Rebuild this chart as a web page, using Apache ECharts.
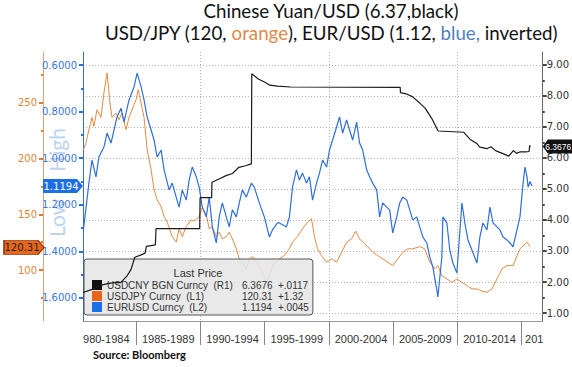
<!DOCTYPE html>
<html><head><meta charset="utf-8">
<script src="https://cdn.jsdelivr.net/npm/echarts@6.0.0/dist/echarts.min.js"></script>
<style>html,body{margin:0;padding:0;background:#fff}#c{width:572px;height:367px}</style>
</head><body><div id="c"></div>
<script>
// ---------- data ----------
const seriesNames = ['USDCNY BGN Curncy', 'USDJPY Curncy', 'EURUSD Curncy'];
const seriesTags = ['(R1)', '(L1)', '(L2)'];
const lastPrices = ['6.3676', '120.31', '1.1194'];
const changes = ['+.0117', '+1.32', '+.0045'];
const lastValues = [6.3676, 120.31, 1.1194];

const periodSeparators = [1985, 1990, 1995, 2000, 2005, 2010, 2015];
const decadeLines = [1990, 2000, 2010];
const periodLabelPos = [1982.68, 1987.5, 1992.5, 1997.5, 2002.5, 2007.5, 2012.5, 2015.98];
const periodLabels = ['980-1984', '1985-1989', '1990-1994', '1995-1999', '2000-2004', '2005-2009', '2010-2014', '201'];

const cnyTicks = [1, 2, 3, 4, 5, 6, 7, 8, 9];
const cnyMinorTicks = [1.5, 2.5, 3.5, 4.5, 5.5, 6.5, 7.5, 8.5];
const jpyTicks = [100, 150, 200, 250];
const jpyMinorTicks = [75, 125, 175, 225, 275];
const eurTicks = [0.6, 0.8, 1.0, 1.2, 1.4, 1.6];
const eurMinorTicks = [0.7, 0.9, 1.1, 1.3, 1.5];

// USD/CNY (right axis)
const usdcny = [
  [1980.87,1.66],[1981.3,1.72],[1981.8,1.8],[1982.3,1.9],[1982.8,1.95],[1983.3,1.98],[1983.8,1.98],
  [1984.3,2.2],[1984.6,2.4],[1984.9,2.8],[1985.3,2.86],[1985.7,2.93],[1985.8,3.15],[1986.5,3.2],
  [1986.55,3.72],[1989.95,3.72],[1989.98,4.72],[1990.88,4.72],[1990.9,5.22],[1991.5,5.33],
  [1992.0,5.43],[1992.5,5.5],[1993.0,5.7],[1993.5,5.75],[1993.97,5.81],[1994.0,8.72],[1994.5,8.55],
  [1995.0,8.45],[1995.4,8.35],[1996.0,8.32],[1997.0,8.29],[2005.55,8.28],[2005.57,8.11],[2006.0,8.07],
  [2006.5,7.98],[2007.0,7.8],[2007.5,7.6],[2008.0,7.28],[2008.5,6.87],[2010.5,6.83],[2010.6,6.78],
  [2011.0,6.6],[2011.5,6.47],[2011.75,6.35],[2012.3,6.3],[2012.6,6.36],[2013.0,6.23],[2013.5,6.15],
  [2014.0,6.06],[2014.35,6.24],[2014.6,6.15],[2014.9,6.2],[2015.3,6.2],[2015.58,6.21],[2015.62,6.4],[2015.7,6.37]
];

// USD/JPY (left axis L1)
const usdjpy = [
  [1980.9,208],[1981.1,214],[1981.33,226],[1981.57,237],[1981.72,229],[1981.96,244],[1982.27,237],
  [1982.5,259],[1982.74,277],[1982.97,250],[1983.13,237],[1983.44,241],[1983.67,235],[1983.91,241],
  [1984.22,226],[1984.45,237],[1984.69,244],[1985.0,253],[1985.16,262],[1985.39,250],[1985.62,237],
  [1985.86,208],[1986.17,190],[1986.4,172],[1986.64,163],[1986.95,157],[1987.18,148],[1987.42,143],
  [1987.81,130],[1988.12,125],[1988.35,137],[1988.59,130],[1988.9,139],[1989.29,145],[1989.52,144],
  [1989.91,148],[1990.15,156],[1990.46,150],[1990.69,137],[1990.93,139],[1991.24,130],[1991.47,134],
  [1991.71,128],[1992.02,130],[1992.25,134],[1992.49,128],[1992.8,119],[1993.03,110],[1993.27,107],
  [1993.58,101],[1993.81,110],[1994.05,112],[1994.59,104],[1995.14,89],[1995.37,95],[1995.61,104],
  [1995.92,107],[1996.15,110],[1996.54,113],[1996.93,119],[1997.17,125],[1997.56,130],[1997.95,137],
  [1998.34,143],[1998.65,146],[1998.88,130],[1999.12,119],[1999.43,113],[1999.82,107],[2000.21,110],
  [2000.6,107],[2000.99,116],[2001.38,125],[2001.77,128],[2002.08,135],[2002.39,128],[2002.63,125],
  [2003.02,121],[2003.41,116],[2003.8,113],[2004.19,110],[2004.58,107],[2004.97,104],[2005.36,110],
  [2005.75,116],[2006.14,119],[2006.53,119],[2007.07,121],[2007.46,119],[2007.85,107],[2008.24,101],
  [2008.48,104],[2008.79,95],[2009.18,92],[2009.57,89],[2009.96,92],[2010.35,89],[2010.74,86],
  [2011.13,83],[2011.52,83],[2011.91,81],[2012.3,80],[2012.69,83],[2013.08,92],[2013.47,101],
  [2013.86,104],[2014.33,104],[2014.87,119],[2015.42,125],[2015.65,121]
];

// EUR/USD (left axis L2, inverted)
const eurusd = [
  [1980.9,1.308],[1981.33,1.107],[1981.57,1.008],[1981.88,1.08],[1982.11,0.995],[1982.5,0.952],
  [1982.74,0.892],[1983.05,0.935],[1983.28,0.879],[1983.52,0.823],[1983.83,0.785],[1984.06,0.845],
  [1984.45,0.75],[1984.84,0.694],[1985.08,0.635],[1985.39,0.694],[1985.62,0.75],[1985.86,0.823],
  [1986.17,0.879],[1986.4,0.922],[1986.64,0.995],[1986.95,0.965],[1987.18,1.05],[1987.57,1.136],
  [1987.81,1.107],[1988.12,1.167],[1988.35,1.21],[1988.59,1.136],[1988.9,1.18],[1989.13,1.094],
  [1989.37,1.038],[1989.68,1.08],[1989.91,1.124],[1990.15,1.21],[1990.46,1.252],[1990.69,1.167],
  [1990.93,1.295],[1991.24,1.364],[1991.47,1.252],[1991.71,1.192],[1992.02,1.252],[1992.25,1.295],
  [1992.49,1.222],[1992.8,1.252],[1993.03,1.192],[1993.27,1.136],[1993.58,1.167],[1993.97,1.107],
  [1994.2,1.124],[1994.59,1.192],[1994.98,1.252],[1995.37,1.338],[1995.61,1.308],[1996.0,1.278],
  [1996.15,1.278],[1996.7,1.295],[1996.93,1.252],[1997.17,1.124],[1997.48,1.05],[1997.71,1.094],
  [1997.95,1.064],[1998.26,1.107],[1998.49,1.08],[1998.73,1.18],[1999.04,1.107],[1999.27,1.064],
  [1999.51,1.008],[1999.82,1.038],[2000.05,0.965],[2000.29,0.922],[2000.6,0.866],[2000.83,0.823],
  [2001.07,0.892],[2001.38,0.836],[2001.61,0.879],[2001.85,0.922],[2002.16,0.845],[2002.39,0.935],
  [2002.63,0.965],[2002.94,1.05],[2003.17,1.08],[2003.41,1.107],[2003.72,1.136],[2003.95,1.252],
  [2004.19,1.192],[2004.5,1.21],[2004.73,1.222],[2004.97,1.321],[2005.28,1.252],[2005.51,1.192],
  [2005.75,1.167],[2006.06,1.18],[2006.29,1.222],[2006.53,1.265],[2006.84,1.252],[2007.07,1.295],
  [2007.31,1.338],[2007.62,1.364],[2007.85,1.424],[2008.09,1.467],[2008.4,1.566],[2008.48,1.596],
  [2008.79,1.424],[2008.87,1.252],[2009.18,1.278],[2009.41,1.394],[2009.65,1.45],[2009.96,1.493],
  [2010.35,1.192],[2010.58,1.278],[2010.82,1.351],[2011.13,1.394],[2011.52,1.45],[2011.75,1.338],
  [2011.99,1.278],[2012.3,1.308],[2012.53,1.21],[2012.77,1.278],[2013.08,1.295],[2013.31,1.308],
  [2013.55,1.338],[2013.86,1.351],[2014.09,1.364],[2014.33,1.381],[2014.87,1.252],[2015.11,1.107],
  [2015.26,1.038],[2015.42,1.08],[2015.5,1.124],[2015.65,1.10],[2015.8,1.1194]
];

// ---------- chart ----------
const C_BLUE = '#2f6fd8', C_ORANGE = '#e58a45', C_BLACK = '#1a1a1a';
const AXIS_FONT = 'DejaVu Sans';
const X_MIN = 1980.87, X_MAX = 2016.64;
const chart = echarts.init(document.getElementById('c'), null, {renderer: 'svg'});

const TAG_RIGHT = 'path://M0,0H34L40,7L34,14H0Z';
const TAG_LEFT = 'path://M0,7L6,0H40V14H6Z';

function tag(coord, offsetX, width, fill, textColor, text, opts) {
  opts = opts || {};
  return {
    symbol: offsetX < 0 ? TAG_RIGHT : TAG_LEFT,
    symbolSize: [width, 14], symbolOffset: [offsetX, 0], silent: true, animation: false,
    itemStyle: {color: fill, borderColor: opts.border || fill, borderWidth: opts.border ? 1 : 0},
    label: {show: true, position: 'inside', color: textColor, fontFamily: opts.font || AXIS_FONT,
      fontSize: opts.size || 10, offset: [opts.dx != null ? opts.dx : -2, 0],
      formatter: function () { return text; }},
    data: [{coord: coord, value: text}]
  };
}

function minorAxis(base, ticks) {
  return Object.assign({}, base, {
    axisLine: {show: false},
    axisTick: {show: true, customValues: ticks, length: 2, lineStyle: base.axisTick.lineStyle},
    axisLabel: {show: false, customValues: ticks},
    splitLine: {show: false}, name: '', axisPointer: {show: false}
  });
}

const eurAxis = {
  type: 'value', position: 'left', inverse: true, min: 0.544, max: 1.699,
  axisLine: {show: true, lineStyle: {color: C_BLUE}},
  axisTick: {show: true, customValues: eurTicks, length: 4, lineStyle: {color: C_BLUE, width: 2}},
  axisLabel: {customValues: eurTicks, margin: 6, color: '#3a78d6', fontFamily: AXIS_FONT, fontSize: 10,
    formatter: function (v) { return v.toFixed(4); }},
  splitLine: {show: false},
  name: 'Low \u2014 High', nameLocation: 'middle', nameRotate: 90, nameGap: 16, nameMoveOverlap: false,
  nameTextStyle: {color: '#bcd3f2', fontFamily: 'Lato', fontSize: 21, padding: [0, 0, 0, 8]}
};
const jpyAxis = {
  type: 'value', position: 'left', offset: 40, min: 54.2, max: 295.8,
  axisLine: {show: true, lineStyle: {color: '#e8a070'}},
  axisTick: {show: true, customValues: jpyTicks, length: 4, lineStyle: {color: '#e07a30', width: 2}},
  axisLabel: {customValues: jpyTicks, margin: 6, color: '#e0843c', fontFamily: AXIS_FONT, fontSize: 10},
  splitLine: {show: false}
};
const cnyAxis = {
  type: 'value', position: 'right', min: 0.742, max: 9.419,
  axisLine: {show: true, lineStyle: {color: '#666'}},
  axisTick: {show: true, customValues: cnyTicks, length: 4, lineStyle: {color: '#444', width: 2}},
  axisLabel: {customValues: cnyTicks, margin: 4, color: '#333', fontFamily: AXIS_FONT, fontSize: 10,
    formatter: function (v) { return v.toFixed(2); }},
  splitLine: {show: true, lineStyle: {color: '#b5b5b5', type: [1, 2], width: 1}}
};

const TITLE_FS = 18.7;
const option = {
  animation: false,
  backgroundColor: '#fff',
  title: [
    {
      text: '{a|Chinese Yuan/USD (6.37,black)}\n{a|USD/JPY (120, }{o|orange}{a|), EUR/USD (1.12, }{b|blue,}{a| inverted)}',
      left: 331, top: 0, textAlign: 'center', padding: 0,
      textStyle: {fontWeight: 'normal', rich: {
        a: {fontFamily: 'Lato', fontSize: TITLE_FS, fontWeight: 'normal', color: '#111', lineHeight: 22},
        o: {fontFamily: 'Lato', fontSize: TITLE_FS, fontWeight: 'normal', color: '#e08a4c', lineHeight: 22},
        b: {fontFamily: 'Lato', fontSize: TITLE_FS, fontWeight: 'normal', color: '#4f81bd', lineHeight: 22}
      }}
    },
    {
      text: 'Last Price', left: 198, top: 267, textAlign: 'center', padding: 0, z: 10,
      textStyle: {fontFamily: 'Liberation Sans', fontSize: 11, fontWeight: 'normal', color: '#333'}
    },
    {
      text: 'Source: Bloomberg', left: 93, top: 349, padding: 0,
      textStyle: {fontFamily: 'Lato', fontSize: 11, fontWeight: 'bold', color: '#111'}
    }
  ],
  legend: {
    orient: 'vertical', left: 84, top: 259,
    padding: [21, 4, 3, 8], itemGap: 1, itemWidth: 10, itemHeight: 10, icon: 'rect',
    backgroundColor: 'rgba(230,230,230,0.88)', borderColor: '#555', borderWidth: 1, borderRadius: 3,
    data: [
      {name: seriesNames[0], itemStyle: {color: '#111'}},
      {name: seriesNames[1], itemStyle: {color: '#e8661c'}},
      {name: seriesNames[2], itemStyle: {color: '#1c6fe8'}}
    ],
    formatter: function (name) {
      const i = seriesNames.indexOf(name);
      return '{n|' + name + '  ' + seriesTags[i] + '}{v|' + lastPrices[i] + '}{c|' + changes[i] + '}';
    },
    textStyle: {
      fontFamily: 'Liberation Sans', fontSize: 10, color: '#333',
      rich: {
        n: {width: 135, fontFamily: 'Liberation Sans', fontSize: 10, color: '#333'},
        v: {width: 36, fontFamily: 'Liberation Sans', fontSize: 10, color: '#333'},
        c: {width: 32, fontFamily: 'Liberation Sans', fontSize: 10, color: '#333'}
      }
    }
  },
  grid: {left: 83, right: 29, top: 52, bottom: 46, containLabel: false},
  xAxis: [
    {
      type: 'value', min: X_MIN, max: X_MAX, position: 'bottom',
      axisLine: {show: true, lineStyle: {color: '#999', width: 1}},
      axisTick: {show: true, customValues: periodSeparators, length: 24, lineStyle: {color: '#888'}},
      axisLabel: {
        customValues: periodLabelPos, margin: 12, color: '#333', fontFamily: 'Liberation Sans', fontSize: 11,
        formatter: function (v) {
          let best = 0;
          periodLabelPos.forEach(function (p, i) { if (Math.abs(p - v) < Math.abs(periodLabelPos[best] - v)) best = i; });
          return periodLabels[best];
        }
      },
      splitLine: {show: false}
    },
    {
      type: 'value', min: X_MIN, max: X_MAX, position: 'bottom',
      axisLine: {show: false}, axisTick: {show: false, customValues: decadeLines},
      axisLabel: {show: false, customValues: decadeLines},
      splitLine: {show: true, lineStyle: {color: '#b5b5b5', type: [1, 2], width: 1}}
    }
  ],
  yAxis: [eurAxis, jpyAxis, cnyAxis,
    minorAxis(eurAxis, eurMinorTicks), minorAxis(jpyAxis, jpyMinorTicks), minorAxis(cnyAxis, cnyMinorTicks)],
  series: [
    {name: seriesNames[1], type: 'line', xAxisIndex: 0, yAxisIndex: 1, data: usdjpy, showSymbol: false,
      lineStyle: {color: C_ORANGE, width: 1}, itemStyle: {color: C_ORANGE}, z: 2,
      markPoint: tag([X_MIN, lastValues[1]], -59, 40, '#e8661c', '#222', lastPrices[1], {border: '#9a3c0c'})},
    {name: seriesNames[2], type: 'line', xAxisIndex: 0, yAxisIndex: 0, data: eurusd, showSymbol: false,
      lineStyle: {color: C_BLUE, width: 1.2}, itemStyle: {color: C_BLUE}, z: 3,
      markPoint: tag([X_MIN, lastValues[2]], -20, 40, '#1c6fe8', '#fff', lastPrices[2])},
    {name: seriesNames[0], type: 'line', xAxisIndex: 0, yAxisIndex: 2, data: usdcny, showSymbol: false,
      lineStyle: {color: C_BLACK, width: 1.2}, itemStyle: {color: C_BLACK}, z: 4,
      markPoint: tag([X_MAX, lastValues[0]], 17, 34, '#111', '#fff', lastPrices[0],
        {font: 'Liberation Sans', size: 8.5, dx: -1.5})}
  ]
};
chart.setOption(option);
</script>
</body></html>
